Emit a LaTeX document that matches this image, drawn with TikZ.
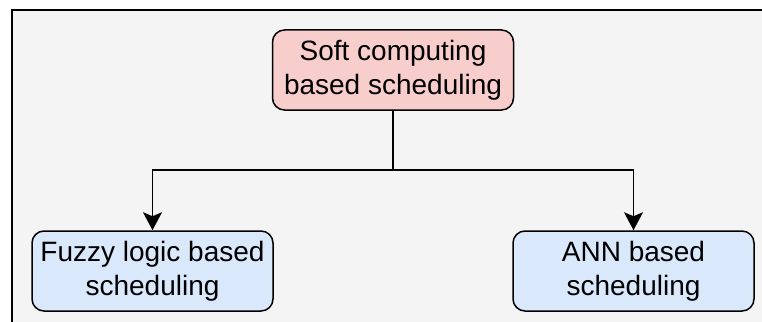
\documentclass[tikz,border=0pt]{standalone}
\usepackage{fontspec}
\setmainfont{Liberation Sans}
\usetikzlibrary{positioning}
\usetikzlibrary{arrows.meta}
\definecolor{bgcol}{HTML}{F4F4F4}
\definecolor{redfill}{HTML}{F8CECC}
\definecolor{bluefill}{HTML}{DAE8FC}
\tikzset{
  box/.style={draw, line width=1.5pt, rounded corners=12pt, minimum width=241pt,
    minimum height=80pt, inner sep=0pt, align=center, font=\fontsize{28}{34}\selectfont},
  conn/.style={-{Stealth[length=18pt,width=19pt,inset=4pt]}, line width=1.5pt}
}

\begin{document}
\begin{tikzpicture}[x=1pt,y=-1pt]
\clip (0,0) rectangle (762,321);
\draw[fill=bgcol, line width=2pt] (11.5,10) rectangle (800,400);

\node(soft)[box, fill=redfill] at (393,70) {Soft computing\\based scheduling};
\node(fuzzy)[box, fill=bluefill] at (152.5,271) {Fuzzy logic based\\scheduling};
\node(ann)[box, fill=bluefill] at (633.5,271) {ANN based\\scheduling};

\coordinate(split) at (393,170);

\draw[line width=1.5pt] (soft.south)--(split);
\draw[conn] (split) -| (fuzzy.north);
\draw[conn] (split) -| (ann.north);
\end{tikzpicture}
\end{document}
